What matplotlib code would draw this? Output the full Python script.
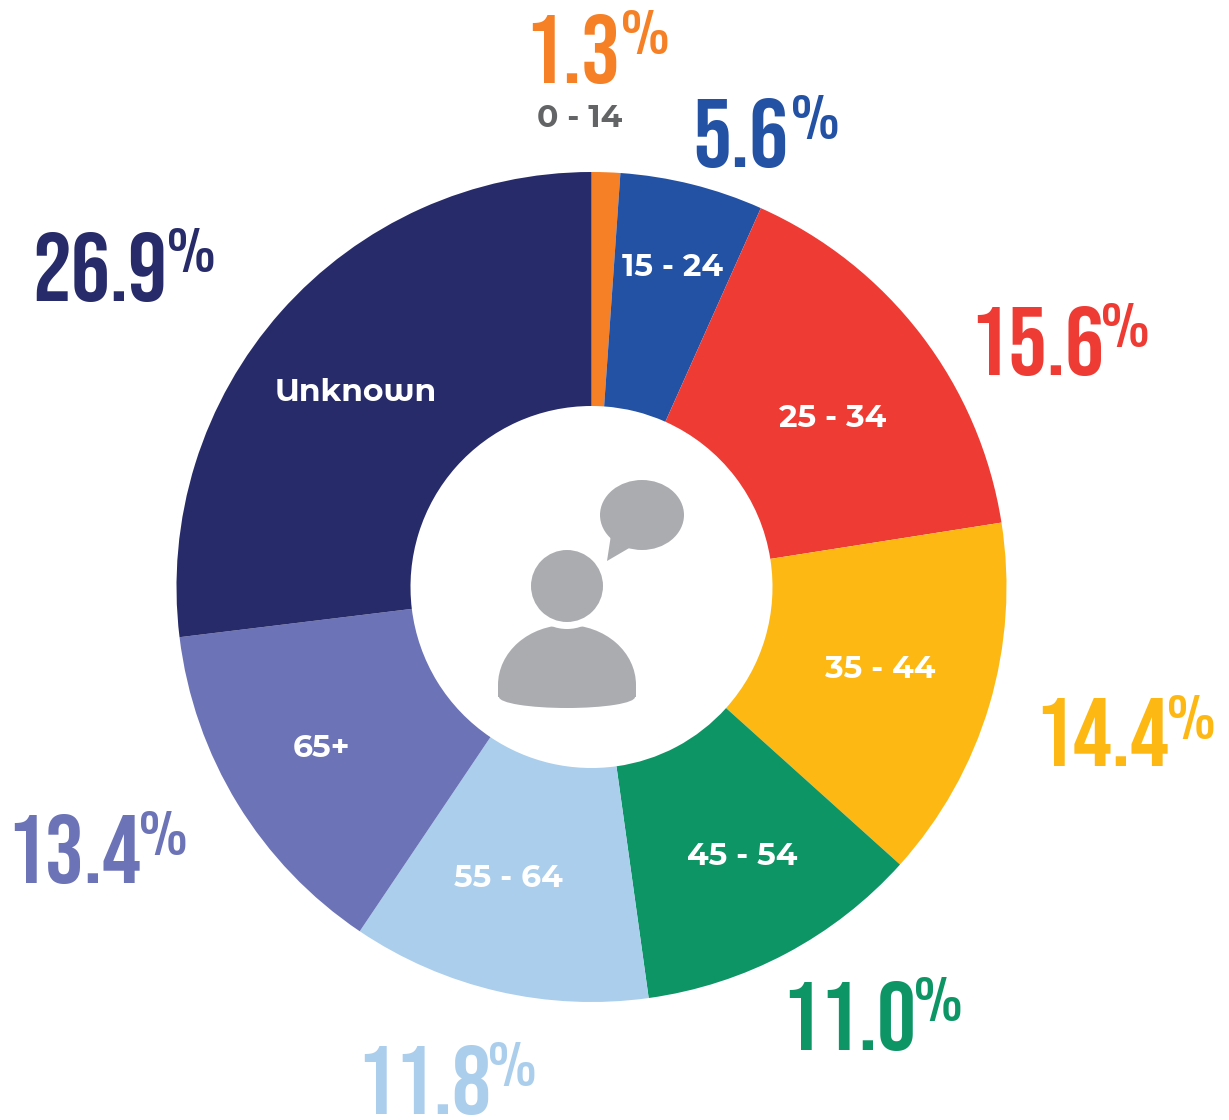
import logging
import matplotlib
matplotlib.use('Agg')
import matplotlib.pyplot as plt
from matplotlib.patches import Circle, Ellipse, Polygon, Rectangle

logging.getLogger('matplotlib.font_manager').setLevel(logging.ERROR)

groups = ['0 - 14', '15 - 24', '25 - 34', '35 - 44', '45 - 54', '55 - 64', '65+', 'Unknown']
share_labels = ['1.3', '5.6', '15.6', '14.4', '11.0', '11.8', '13.4', '26.9']
# slice sizes, the drawn angles differ a bit from the printed numbers
sizes = [1.11, 5.58, 15.83, 14.14, 11.14, 11.63, 13.64, 26.93]
colors = ['#F58025', '#2351A4', '#EE3B33', '#FDB813', '#0E9566', '#ABCEEC', '#6C73B6', '#272B69']
# where the text sits, in pixels from the top left of the picture
group_pos = [(580, 118), (672, 267), (833, 418), (880, 669), (742, 856), (508, 878), (321, 748), (356, 392)]
share_pos = [(524, 83), (692, 167), (969, 375), (1034, 766), (781, 1050), (356, 1114), (6, 883), (32, 301)]
pct_pos = [(621, 54), (791, 139), (1101, 347), (1167, 739), (914, 1021), (488, 1086), (139, 855), (167, 272)]

big_font = ['Bebas Neue', 'Oswald', 'Liberation Sans Narrow', 'DejaVu Sans']
pct_font = ['Oswald', 'Bebas Neue', 'Liberation Sans Narrow', 'DejaVu Sans']
small_font = ['Montserrat Alternates', 'Poppins', 'Inter', 'Lato', 'DejaVu Sans']

W, H = 1229, 1120
fig = plt.figure(figsize=(W / 100, H / 100), dpi=100)
ax = fig.add_axes([0, 0, 1, 1])


def flip(y):
    return H - y


ax.pie(sizes, colors=colors, startangle=90, counterclock=False, center=(591.5, flip(587)),
       radius=415, wedgeprops=dict(width=234, linewidth=0), frame=False)
ax.set_xlim(0, W)
ax.set_ylim(0, H)
ax.set_aspect('equal')
ax.axis('off')

for i in range(len(groups)):
    c = '#636466' if i == 0 else 'white'
    ax.text(group_pos[i][0], flip(group_pos[i][1]), groups[i], color=c, fontsize=22.6, family=small_font,
            fontweight='bold', ha='center', va='center')
    ax.text(share_pos[i][0], flip(share_pos[i][1]), share_labels[i], color=colors[i], fontsize=70,
            family=big_font, ha='left', va='baseline')
    ax.text(pct_pos[i][0], flip(pct_pos[i][1]), '%', color=colors[i], fontsize=39,
            family=pct_font, ha='left', va='baseline')

# icon in the middle
grey = '#ABACAF'
body = Ellipse((567, flip(685)), 138, 120, color=grey, lw=0)
ax.add_patch(body)
body.set_clip_path(Rectangle((490, flip(697)), 160, 80, transform=ax.transData))
ax.add_patch(Rectangle((498, flip(697)), 138, 12, color=grey, lw=0))
ax.add_patch(Ellipse((567, flip(697)), 136, 22, color=grey, lw=0))
ax.add_patch(Circle((567, flip(586)), 43, color='white', lw=0))
ax.add_patch(Circle((567, flip(586)), 36, color=grey, lw=0))
ax.add_patch(Ellipse((642, flip(515)), 84, 70, color=grey, lw=0))
ax.add_patch(Polygon([(611, flip(535)), (607, flip(561)), (631, flip(547))], color=grey, lw=0))

fig.savefig('out.png', dpi=100)
